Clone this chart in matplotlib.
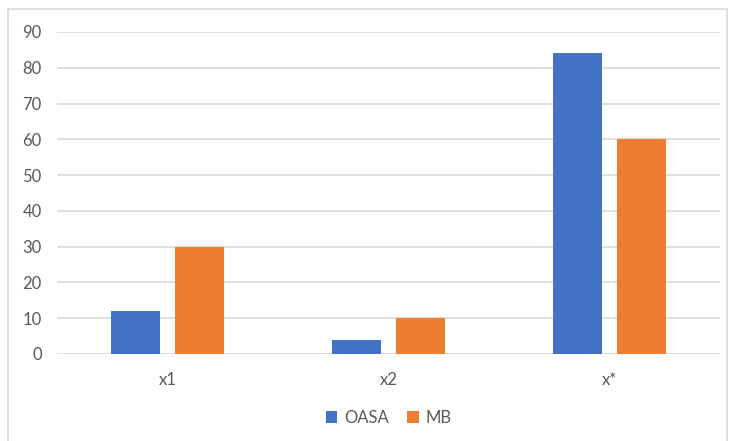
import numpy as np
import matplotlib.pyplot as plt
from matplotlib.patches import Rectangle

categories = ["x1", "x2", "x*"]
oasa = [12, 4, 84]
mb = [30, 10, 60]

plt.rcParams['font.family'] = ['Lato', 'DejaVu Sans']

W, H = 729, 441
fig = plt.figure(figsize=(W / 100, H / 100), dpi=100)
# chart frame like Excel
fig.patches.append(Rectangle((8 / W, -0.01), (727 - 8) / W, 1 - 9 / H + 0.01,
                             transform=fig.transFigure, fill=False,
                             edgecolor='#d9d9d9', linewidth=1.2))

ax = fig.add_axes([57 / W, 1 - 354 / H, (720 - 57) / W, (354 - 32) / H])
x = np.arange(len(categories))
bw = 0.222
off = 0.145
ax.bar(x - off, oasa, bw, color='#4472c4', label='OASA', zorder=3)
ax.bar(x + off, mb, bw, color='#ed7d31', label='MB', zorder=3)

ax.set_xlim(-0.5, 2.5)
ax.set_ylim(0, 90)
ax.set_yticks(range(0, 91, 10))
ax.set_xticks(x)
ax.set_xticklabels(categories)
ax.yaxis.grid(True, color='#d9d9d9', linewidth=1.2, zorder=0)
for s in ax.spines.values():
    s.set_visible(False)
ax.tick_params(length=0, labelsize=12, colors='#595959')
ax.tick_params(axis='y', pad=11)
ax.tick_params(axis='x', pad=13)

ax.legend(loc='center', bbox_to_anchor=(0.5, (354 - 418) / (354 - 32)),
          ncol=2, frameon=False, fontsize=12, labelcolor='#595959',
          handlelength=0.7, handleheight=0.7, handletextpad=0.4,
          columnspacing=1.1)

fig.savefig('out.png', dpi=100)
